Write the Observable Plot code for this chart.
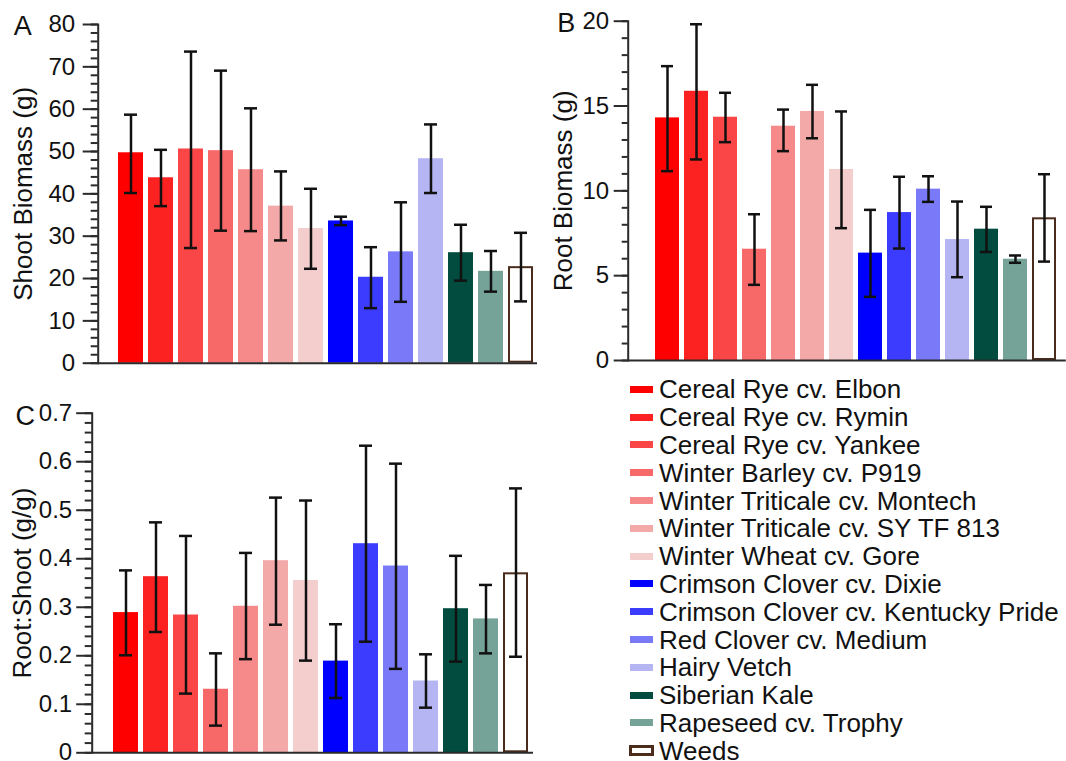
<!DOCTYPE html>
<html><head><meta charset="utf-8">
<script src="https://cdn.jsdelivr.net/npm/d3@7"></script>
<script src="https://cdn.jsdelivr.net/npm/@observablehq/plot@0.6"></script>
<style>
html,body{margin:0;padding:0;background:#fff;}
#root{position:relative;width:1066px;height:761px;overflow:hidden;font-family:"Liberation Sans",Arial,sans-serif;}
.panel{position:absolute;}
.legend-row{position:absolute;left:630px;height:28px;line-height:28px;font-size:26px;color:#111;white-space:nowrap;}
.sw{position:absolute;left:0;top:10.5px;width:23px;height:7px;box-sizing:border-box;}
.lab{position:absolute;left:29px;top:0;}
</style></head><body><div id="root"></div>
<script>
const categories = ["Cereal Rye cv. Elbon","Cereal Rye cv. Rymin","Cereal Rye cv. Yankee","Winter Barley cv. P919","Winter Triticale cv. Montech","Winter Triticale cv. SY TF 813","Winter Wheat cv. Gore","Crimson Clover cv. Dixie","Crimson Clover cv. Kentucky Pride","Red Clover cv. Medium","Hairy Vetch","Siberian Kale","Rapeseed cv. Trophy","Weeds"];
const fills = ["#ff0000","#fd2222","#fa4646","#f76868","#f68989","#f4a9a9","#f4cdcd","#0000ff","#3c3cff","#7a7af8","#b5b5f4","#014c3e","#76a398","#ffffff"];
const outlines = [null,null,null,null,null,null,null,null,null,null,null,null,null,"#4b2c1c"];

const shootMean = [49.7, 43.8, 50.6, 50.2, 45.7, 37.1, 31.8, 33.6, 20.3, 26.3, 48.3, 26.1, 21.7, 22.8];
const shootLow  = [40.2, 37.1, 27.2, 31.3, 31.2, 29.0, 22.3, 32.6, 13.0, 14.5, 40.2, 19.5, 16.9, 14.6];
const shootHigh = [58.7, 50.4, 73.6, 69.1, 60.2, 45.3, 41.2, 34.6, 27.4, 38.0, 56.4, 32.7, 26.5, 30.8];

const rootMean = [14.3, 15.87, 14.34, 6.56, 13.81, 14.68, 11.26, 6.33, 8.72, 10.10, 7.13, 7.74, 5.97, 8.41];
const rootLow  = [11.16, 11.85, 12.87, 4.46, 12.34, 13.10, 7.80, 3.75, 6.60, 9.35, 4.91, 6.40, 5.76, 5.83];
const rootHigh = [17.35, 19.82, 15.78, 8.62, 14.79, 16.25, 14.68, 8.88, 10.83, 10.86, 9.37, 9.06, 6.19, 10.98];

const ratioMean = [0.289, 0.363, 0.284, 0.131, 0.302, 0.396, 0.355, 0.189, 0.431, 0.385, 0.148, 0.297, 0.276, 0.371];
const ratioLow  = [0.201, 0.249, 0.122, 0.056, 0.193, 0.264, 0.190, 0.113, 0.229, 0.173, 0.093, 0.188, 0.205, 0.198];
const ratioHigh = [0.376, 0.475, 0.447, 0.205, 0.412, 0.526, 0.520, 0.265, 0.633, 0.596, 0.203, 0.406, 0.346, 0.545];

const shootTicks = [0,10,20,30,40,50,60,70,80];
const rootTicks = [0,5,10,15,20];
const ratioTicks = [0,0.1,0.2,0.3,0.4,0.5,0.6,0.7];
const ratioTickLabels = ["0","0.1","0.2","0.3","0.4","0.5","0.6","0.7"];

const panelLetters = ["A","B","C"];
const axisTitles = ["Shoot Biomass (g)","Root Biomass (g)","Root:Shoot (g/g)"];

const FONT = "'Liberation Sans', Arial, sans-serif";
const INK = "#111";
const AX = "#2b2b2b";

function panel(o) {
  const data = categories.map((c, i) => ({cat: c, mean: o.mean[i], lo: o.lo[i], hi: o.hi[i], color: fills[i], outline: outlines[i]}));
  const chart = Plot.plot({
    width: o.width, height: o.height,
    marginLeft: o.ml, marginRight: o.mr, marginTop: o.mt, marginBottom: o.mb,
    style: {fontFamily: FONT, color: INK, background: "transparent", overflow: "visible"},
    x: {domain: categories, range: o.xRange, paddingInner: 1/6, paddingOuter: 1/12, axis: null},
    y: {domain: o.yDomain},
    color: {type: "identity"},
    marks: [
      Plot.barY(data, {x: "cat", y: "mean", fill: "color"}),
      Plot.barY(data.filter(d => d.outline), {x: "cat", y: "mean", fill: "none", stroke: "outline", strokeWidth: 2, inset: 1}),
      Plot.ruleX(data, {x: "cat", y1: "lo", y2: "hi", stroke: INK, strokeWidth: 2.5}),
      Plot.tickY(data, {x: "cat", y: "lo", stroke: INK, strokeWidth: 2.5, insetLeft: 6, insetRight: 6}),
      Plot.tickY(data, {x: "cat", y: "hi", stroke: INK, strokeWidth: 2.5, insetLeft: 6, insetRight: 6}),
      Plot.axisY(o.minor, {tickSize: o.minorSize, tickFormat: () => "", stroke: AX, strokeWidth: 2, label: null}),
      Plot.axisY(o.major, {tickSize: o.majorSize, tickPadding: o.pad, fontSize: 24, stroke: AX, fill: INK, strokeWidth: 2, label: null, tickFormat: o.fmt}),
      Plot.frame({anchor: "left", stroke: AX, strokeWidth: 2}),
      Plot.ruleY([0], {stroke: AX, strokeWidth: 2}),
      Plot.text([o.title], {frameAnchor: "left", dx: o.titleDx, rotate: -90, fontSize: 26, fill: INK, textAnchor: "middle", lineAnchor: "middle"}),
      Plot.text([o.letter], {frameAnchor: "top-left", dx: o.letDx, dy: o.letDy, fontSize: 27, fill: INK, textAnchor: "start", lineAnchor: "middle"})
    ]
  });
  chart.classList.add("panel");
  chart.style.left = o.left + "px";
  chart.style.top = o.top + "px";
  return chart;
}

const root = document.getElementById("root");

root.appendChild(panel({
  left: 0, top: 0, width: 540, height: 380, ml: 97.7, mr: 3, mt: 24, mb: 17.3,
  xRange: [115.2, 535.2], yDomain: [0, 80],
  mean: shootMean, lo: shootLow, hi: shootHigh,
  major: shootTicks, minor: d3.range(0, 41).map(i => i * 2), majorSize: 15, minorSize: 7, pad: 8,
  fmt: d => String(d), title: axisTitles[0], titleDx: -74.7, letter: panelLetters[0], letDx: -84.4, letDy: 2.3
}));

root.appendChild(panel({
  left: 540, top: 0, width: 526, height: 380, ml: 87.7, mr: 0.2, mt: 20.7, mb: 20,
  xRange: [105.8, 525.8], yDomain: [0, 20],
  mean: rootMean, lo: rootLow, hi: rootHigh,
  major: rootTicks, minor: d3.range(0, 21), majorSize: 14, minorSize: 6, pad: 5,
  fmt: d => String(d), title: axisTitles[1], titleDx: -64.7, letter: panelLetters[1], letDx: -71, letDy: 1.8
}));

root.appendChild(panel({
  left: 0, top: 380, width: 535, height: 381, ml: 91.7, mr: 2, mt: 32.7, mb: 8.7,
  xRange: [110.5, 530.5], yDomain: [0, 0.7],
  mean: ratioMean, lo: ratioLow, hi: ratioHigh,
  major: ratioTicks, minor: d3.range(0, 36).map(i => i * 0.02), majorSize: 15.5, minorSize: 7, pad: 4.5,
  fmt: d => ratioTickLabels[ratioTicks.indexOf(d)], title: axisTitles[2], titleDx: -69.2, letter: panelLetters[2], letDx: -76.7, letDy: 3.5
}));

// Legend
categories.forEach((c, i) => {
  const row = document.createElement("div");
  row.className = "legend-row";
  row.style.top = (389.3 + 27.8 * i - 14) + "px";
  const sw = document.createElement("div");
  sw.className = "sw";
  if (outlines[i]) {
    sw.style.background = fills[i];
    sw.style.border = "3px solid " + outlines[i];
    sw.style.height = "11px";
    sw.style.top = "8.5px";
    sw.style.left = "-1px";
    sw.style.width = "25px";
  } else {
    sw.style.background = fills[i];
  }
  const lab = document.createElement("span");
  lab.className = "lab";
  lab.textContent = c;
  row.appendChild(sw);
  row.appendChild(lab);
  root.appendChild(row);
});
</script>
</body></html>
